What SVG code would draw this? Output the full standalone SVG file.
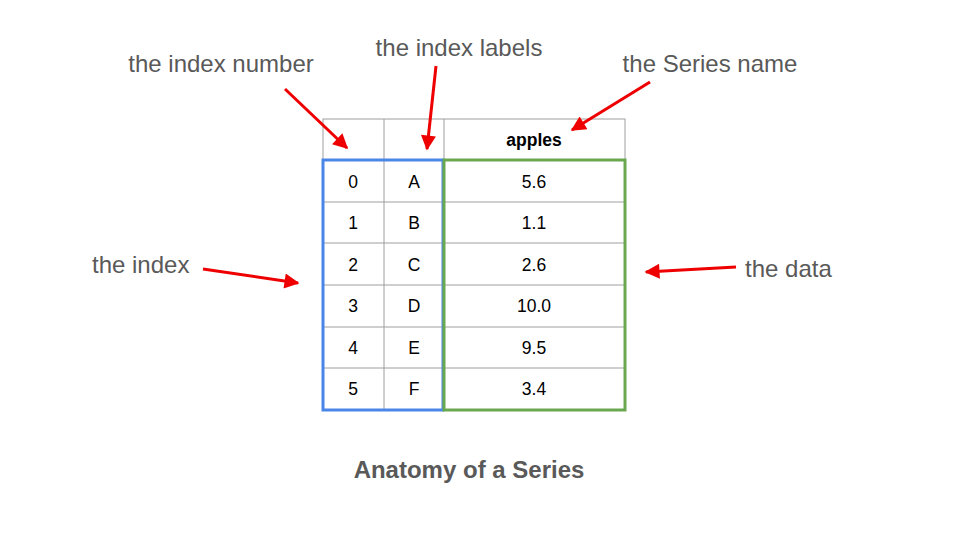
<svg xmlns="http://www.w3.org/2000/svg" width="960" height="540" viewBox="0 0 960 540">
<style>
.lbl{font-family:"Liberation Sans",Arial,sans-serif;font-size:24px;fill:#595959}
.cell{font-family:"Liberation Sans",Arial,sans-serif;font-size:17.5px;fill:#000;text-anchor:middle}
.grid{stroke:#9e9e9e;stroke-width:1;fill:none}
.arr{stroke:#ee0000;stroke-width:3;fill:none;marker-end:url(#ah)}
</style>
<defs>
<marker id="ah" viewBox="0 0 10 10" refX="9" refY="5" markerWidth="6" markerHeight="5" markerUnits="strokeWidth" orient="auto">
<path d="M0,0 L10,5 L0,10 z" fill="#ee0000"/>
</marker>
</defs>
<rect width="960" height="540" fill="#fff"/>
<g id="table">
<rect class="grid" x="323" y="119" width="302" height="291"/>
<line class="grid" x1="384" y1="119" x2="384" y2="410"/>
<line class="grid" x1="444" y1="119" x2="444" y2="410"/>
<line class="grid" x1="323" y1="160" x2="625" y2="160"/>
<line class="grid" x1="323" y1="202" x2="625" y2="202"/>
<line class="grid" x1="323" y1="243" x2="625" y2="243"/>
<line class="grid" x1="323" y1="285" x2="625" y2="285"/>
<line class="grid" x1="323" y1="327" x2="625" y2="327"/>
<line class="grid" x1="323" y1="368" x2="625" y2="368"/>
<text class="cell" x="534" y="146" font-weight="bold" font-size="18">apples</text>
<text class="cell" x="353" y="188">0</text><text class="cell" x="414" y="188">A</text><text class="cell" x="534" y="188">5.6</text>
<text class="cell" x="353" y="229">1</text><text class="cell" x="414" y="229">B</text><text class="cell" x="534" y="229">1.1</text>
<text class="cell" x="353" y="271">2</text><text class="cell" x="414" y="271">C</text><text class="cell" x="534" y="271">2.6</text>
<text class="cell" x="353" y="312">3</text><text class="cell" x="414" y="312">D</text><text class="cell" x="534" y="312">10.0</text>
<text class="cell" x="353" y="354">4</text><text class="cell" x="414" y="354">E</text><text class="cell" x="534" y="354">9.5</text>
<text class="cell" x="353" y="395">5</text><text class="cell" x="414" y="395">F</text><text class="cell" x="534" y="395">3.4</text>
</g>
<g id="index-box"><rect x="323" y="160" width="120" height="250" fill="none" stroke="#4a86e8" stroke-width="3"/></g>
<g id="data-box"><rect x="444" y="160" width="181" height="250" fill="none" stroke="#6aa84f" stroke-width="3"/></g>
<g id="labels">
<text class="lbl" x="221" y="72" text-anchor="middle">the index number</text>
<text class="lbl" x="459" y="56" text-anchor="middle">the index labels</text>
<text class="lbl" x="710" y="72" text-anchor="middle">the Series name</text>
<text class="lbl" x="92" y="273">the index</text>
<text class="lbl" x="745" y="277">the data</text>
<text class="lbl" x="469" y="478" text-anchor="middle" font-weight="bold">Anatomy of a Series</text>
</g>
<g id="connectors">
<line class="arr" x1="285" y1="89" x2="347" y2="148"/>
<line class="arr" x1="436" y1="66" x2="427" y2="149"/>
<line class="arr" x1="650" y1="82" x2="572" y2="130"/>
<line class="arr" x1="203" y1="269" x2="298" y2="283"/>
<line class="arr" x1="736" y1="267" x2="646" y2="272"/>
</g>
</svg>
